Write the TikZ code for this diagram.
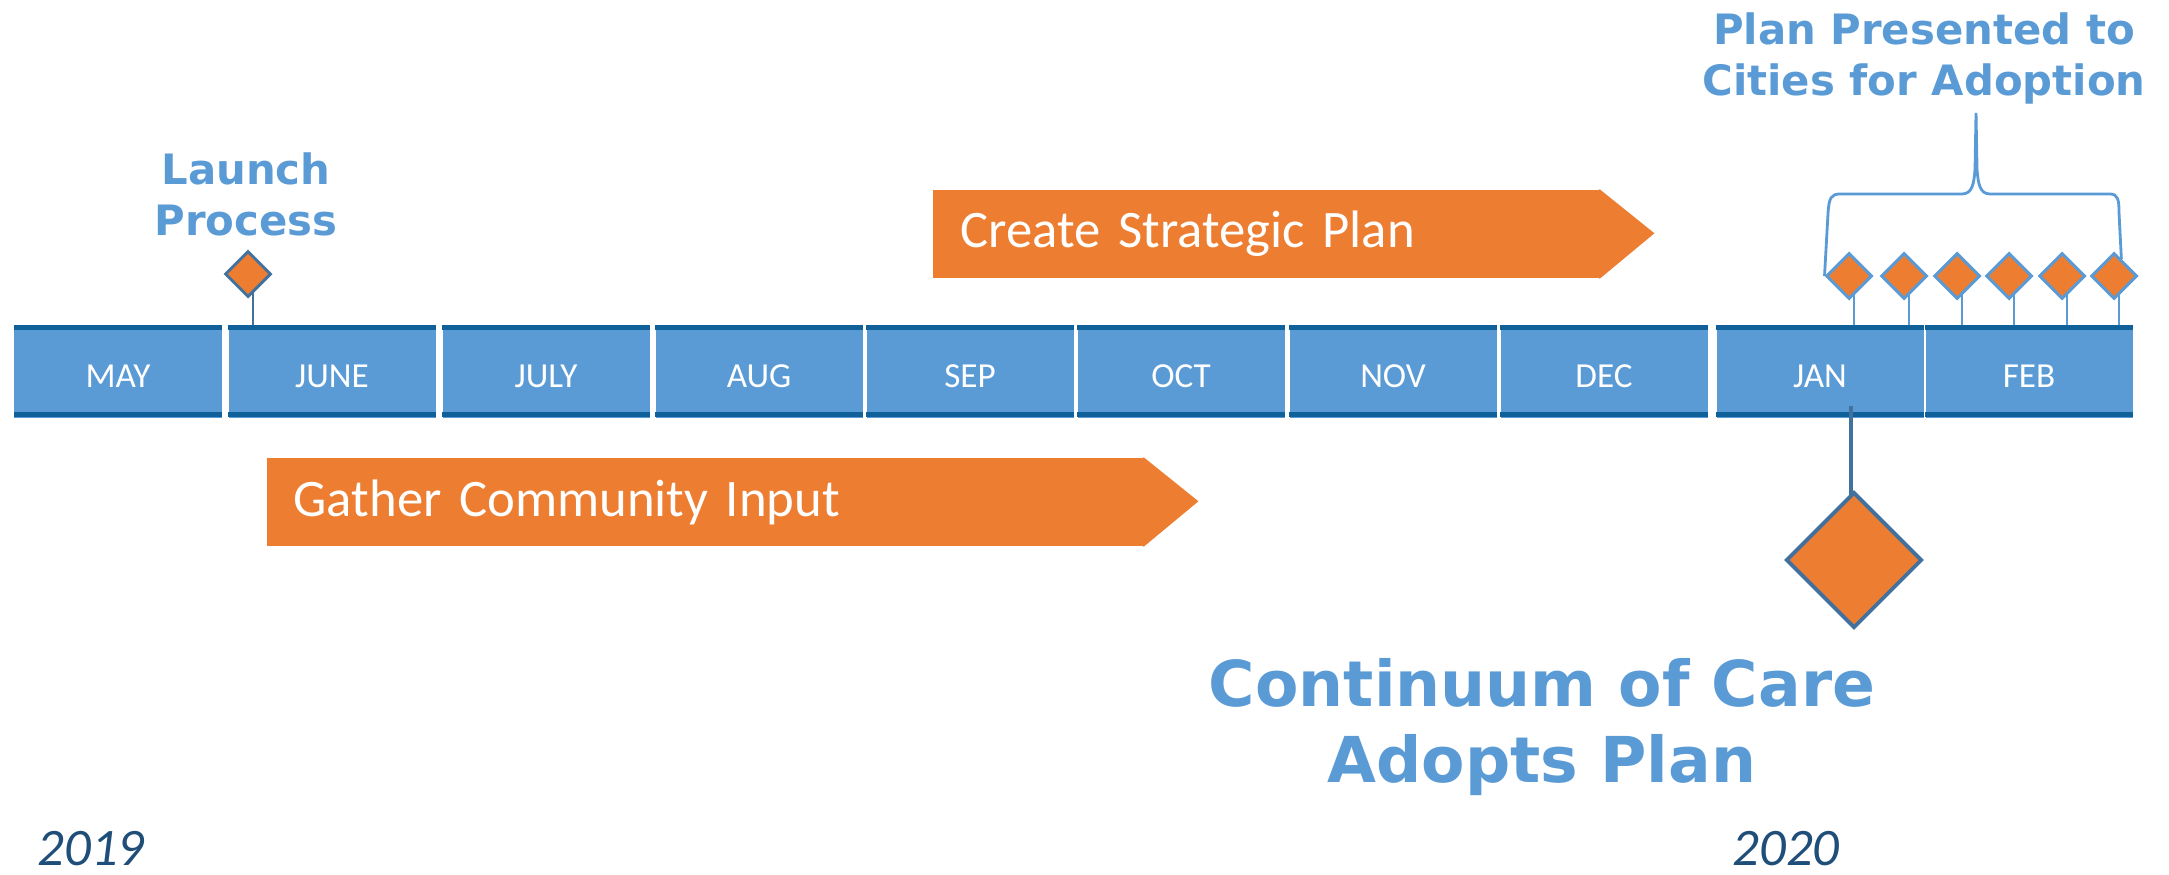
\documentclass[tikz,border=0pt]{standalone}
\usepackage{fontspec}
\setmainfont{Carlito}
\newfontfamily\headfont{DejaVu Sans}
\usepackage{xcolor}
\usepackage{tikz}
\usetikzlibrary{shapes.geometric,calc}

\definecolor{tlblue}{HTML}{5B9BD5}
\definecolor{tlstripe}{HTML}{10619A}
\definecolor{tlorange}{HTML}{ED7D31}
\definecolor{tledge}{HTML}{41719C}
\definecolor{tlyear}{HTML}{1F4E79}

\begin{document}
\begin{tikzpicture}[
    month/.style={rectangle, fill=tlblue, minimum width=2.07cm, minimum height=0.92cm, inner sep=0pt, text height=0.31cm, text depth=0cm, text=white, font=\fontsize{10}{12}\selectfont},
    phase/.style={rectangle, fill=tlorange, minimum height=0.885cm, inner xsep=0.28cm, inner ysep=0pt, align=left, anchor=west, text=white, font=\fontsize{15}{18}\selectfont},
    milestone/.style={diamond, aspect=1, draw=tlblue, line width=0.85pt, fill=tlorange, minimum size=0.46cm, inner sep=0pt},
    stem/.style={tlblue, line width=0.75pt},
    caption/.style={text=tlblue, align=center, font=\headfont\bfseries\fontsize{11.9}{14.5}\selectfont},
    year/.style={text=tlyear, anchor=west, inner sep=0pt, font=\itshape\fontsize{15}{18}\selectfont}
]
    \useasboundingbox (0,0) rectangle (21.69,8.74);

    % the month bar
    \foreach \x/\n/\m in {1.18/may/MAY, 3.32/jun/JUNE, 5.46/jul/JULY, 7.59/aug/AUG, 9.70/sep/SEP, 11.81/oct/OCT, 13.93/nov/NOV, 16.04/dec/DEC, 18.20/jan/JAN, 20.29/feb/FEB} {
        \node[month] (\n) at (\x,5.02) {\m};
        \fill[tlstripe] (\n.north west) rectangle ([yshift=-0.05cm]\n.north east);
        \fill[tlstripe] ([yshift=0.015cm]\n.south west) rectangle ([yshift=0.07cm]\n.south east);
    }

    % phases
    \node[phase, text width=6.12cm] (create) at (9.32,6.40) {Create Strategic Plan};
    \fill[tlorange] ([xshift=-0.02cm]create.north east) -- ++(0.55,-0.4425) -- ([xshift=-0.02cm]create.south east) -- cycle;
    \node[phase, text width=8.24cm, inner xsep=0.27cm] (gather) at (2.66,3.72) {Gather Community Input};
    \fill[tlorange] ([xshift=-0.02cm]gather.north east) -- ++(0.55,-0.4425) -- ([xshift=-0.02cm]gather.south east) -- cycle;

    % launch
    \node[caption] (launchtxt) at (2.46,6.80) {Launch\\Process};
    \node[milestone, draw=tledge] (launch) at (2.48,6.00) {};
    \draw[stem, tledge] ([xshift=0.05cm,yshift=0.05cm]launch.south) -- ([xshift=0.05cm]launch.south |- jun.north);

    % presentations to the cities
    \foreach \i/\x in {1/18.49, 2/19.04, 3/19.57, 4/20.09, 5/20.62, 6/21.14} {
        \node[milestone] (city\i) at (\x,5.98) {};
        \draw[stem] ([xshift=0.05cm,yshift=0.05cm]city\i.south) -- ([xshift=0.05cm]city\i.south |- feb.north);
    }
    \coordinate (peak) at (19.76,7.61);
    \draw[tlblue, line width=0.8pt] (city1.west) -- (18.28,6.61) .. controls (18.29,6.76) and (18.31,6.80) .. (18.40,6.80)
        -- (19.62,6.80) .. controls (19.72,6.80) and (19.74,6.90) .. (19.75,7.05) -- (peak)
        -- (19.77,7.05) .. controls (19.78,6.90) and (19.80,6.80) .. (19.90,6.80)
        -- (21.10,6.80) .. controls (21.18,6.80) and (21.19,6.74) .. (21.19,6.61)
        -- ($(city6.north)!0.3!(city6.east)$);
    \node[caption] (plantxt) at (19.24,8.16) {Plan Presented to\\Cities for Adoption};

    % adoption
    \node[milestone, draw=tledge, line width=1.1pt, minimum size=1.36cm] (adopt) at (18.54,3.14) {};
    \draw[stem, tledge, line width=1.1pt] ([xshift=-0.03cm,yshift=-0.06cm]adopt.north) -- ([xshift=-0.03cm,yshift=0.13cm]adopt.north |- jan.south);
    \node[caption, font=\headfont\bfseries\fontsize{18}{21.6}\selectfont] (adopttxt) at (15.42,1.47) {Continuum of Care\\Adopts Plan};

    \node[year] (y2019) at (0.37,0.25) {2019};
    \node[year] (y2020) at (17.32,0.25) {2020};
\end{tikzpicture}
\end{document}
